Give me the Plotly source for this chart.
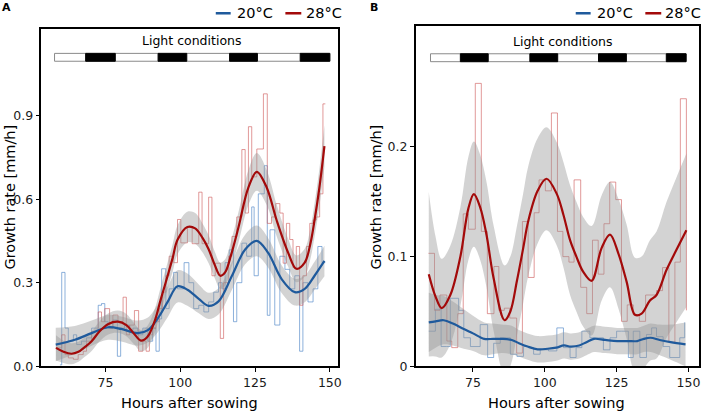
import plotly.graph_objects as go

W, H = 708, 419

# ---------------- Panel A data ----------------
red_A_x = [58.4, 60.4, 61.5, 62.6, 64.3, 65.9, 67.6, 68.7, 70.4, 72.6, 73.7, 74.8, 76.4, 77.5, 79.2, 80.9, 82.0, 83.1, 84.7, 86.1,
           87.5, 88.6, 89.7, 90.8, 91.9, 93.0, 94.1, 95.2, 96.3, 97.8, 99.1, 100.2, 102.4, 104.0, 106.2, 107.3, 109.5, 110.6, 111.7, 113.4,
           114.5, 116.2, 117.3, 118.9, 120.6, 121.7, 122.8, 123.9, 125.6, 127.8, 129.1, 130.5, 131.9, 133.3, 134.4, 135.5, 136.6, 137.7,
           138.8, 139.9, 141.0, 142.2, 143.3, 144.4, 145.5, 146.6, 147.7, 148.5]
red_A_y = [0.066, 0.113, 0.042, 0.030, 0.025, 0.042, 0.054, 0.090, 0.125, 0.195, 0.160, 0.207, 0.137, 0.184, 0.160, 0.248, 0.113, 0.148, 0.200, 0.054,
           0.090, 0.054, 0.113, 0.137, 0.160, 0.207, 0.266, 0.325, 0.395, 0.372, 0.527, 0.443, 0.500, 0.440, 0.625, 0.440, 0.607, 0.325, 0.370, 0.100,
           0.300, 0.395, 0.466, 0.536, 0.778, 0.550, 0.860, 0.680, 0.780, 0.978, 0.513, 0.536, 0.584, 0.550, 0.370, 0.513, 0.455, 0.354,
           0.430, 0.219, 0.325, 0.430, 0.513, 0.525, 0.536, 0.619, 0.942, 0.942]

blue_A_x = [59.8, 60.4, 61.5, 62.6, 64.3, 65.4, 67.0, 68.7, 70.4, 72.6, 73.7, 74.8, 75.9, 77.5, 79.0, 80.1, 81.4, 83.1, 84.2, 85.8,
            87.5, 89.2, 90.8, 91.9, 93.0, 93.8, 95.2, 96.3, 97.8, 99.1, 101.3, 102.9, 104.5, 106.2, 107.9, 109.5, 111.2, 112.8, 114.0, 115.0,
            116.4, 117.8, 118.9, 120.6, 122.2, 123.9, 124.7, 126.1, 128.1, 129.1, 130.0, 131.6, 133.3, 135.0, 136.6, 138.3, 139.9, 141.0,
            142.7, 144.4, 146.0, 147.4, 148.5]
blue_A_y = [0.005, 0.337, 0.137, 0.090, 0.113, 0.078, 0.090, 0.102, 0.137, 0.219, 0.225, 0.160, 0.137, 0.166, 0.036, 0.137, 0.148, 0.125, 0.137, 0.113,
            0.137, 0.090, 0.137, 0.054, 0.170, 0.350, 0.207, 0.278, 0.337, 0.278, 0.372, 0.300, 0.207, 0.219, 0.195, 0.231, 0.266, 0.300, 0.278, 0.372,
            0.418, 0.160, 0.300, 0.442, 0.395, 0.572, 0.325, 0.619, 0.720, 0.183, 0.490, 0.148, 0.395, 0.348, 0.278, 0.325, 0.054, 0.300,
            0.231, 0.278, 0.430, 0.372, 0.372]

red_A_fit_x = [58.5, 61, 63.7, 66, 68, 70.4, 73, 76, 79.2, 82, 84.5, 86.9, 89, 91.4, 93.5, 95.8, 97.5, 99.1, 102.4, 105,
               107.5, 109.5, 111.5, 113.4, 115, 117, 119.5, 122.8, 125.6, 128.9, 132.2, 136.1, 138.8, 141.6, 143.5, 144.9, 146.5, 148.2]
red_A_fit = [0.066, 0.052, 0.045, 0.052, 0.068, 0.090, 0.125, 0.152, 0.160, 0.148, 0.118, 0.092, 0.105, 0.160, 0.240, 0.325, 0.390, 0.454, 0.500, 0.495,
             0.460, 0.420, 0.365, 0.325, 0.337, 0.400, 0.500, 0.642, 0.698, 0.642, 0.525, 0.407, 0.350, 0.372, 0.440, 0.525, 0.640, 0.790]
red_A_ci = [0.045, 0.040, 0.038, 0.036, 0.035, 0.035, 0.036, 0.038, 0.040, 0.040, 0.038, 0.038, 0.040, 0.043, 0.045, 0.048, 0.050, 0.052, 0.055, 0.055,
            0.052, 0.050, 0.048, 0.047, 0.047, 0.050, 0.055, 0.063, 0.068, 0.063, 0.057, 0.050, 0.048, 0.050, 0.055, 0.060, 0.068, 0.075]

blue_A_fit_x = [58.4, 64.8, 70.4, 75.9, 80.3, 85.8, 89.2, 92.5, 95.8, 99.1, 102.4, 106.2, 109.5, 112.8, 117.3, 121.7, 125.6, 129.4,
                133.9, 138.3, 141.6, 144.9, 148.2]
blue_A_fit = [0.078, 0.095, 0.119, 0.140, 0.134, 0.119, 0.130, 0.172, 0.231, 0.287, 0.275, 0.242, 0.217, 0.233, 0.325, 0.419, 0.450, 0.407,
              0.313, 0.266, 0.278, 0.325, 0.378]
blue_A_ci = [0.060, 0.050, 0.045, 0.045, 0.045, 0.045, 0.045, 0.050, 0.055, 0.058, 0.058, 0.052, 0.047, 0.047, 0.050, 0.053, 0.055, 0.053,
             0.050, 0.048, 0.048, 0.050, 0.055]

# ---------------- Panel B data ----------------
red_B_x = [59.5, 61.6, 63.5, 65.9, 67.6, 69.7, 71.6, 73.4, 75.8, 77.9, 80.0, 82.3, 84.0, 85.9, 87.8, 90.2, 92.2, 94.2, 96.3, 98.0,
           100.2, 102.3, 104.4, 106.3, 108.4, 110.2, 112.5, 114.6, 116.6, 118.6, 120.6, 122.6, 124.7, 126.7, 128.7, 130.8, 132.9, 135.1,
           137.2, 138.9, 141.0, 143.2, 145.3, 147.2, 149.3]
red_B_y = [0.103, 0.051, 0.065, 0.023, 0.017, 0.048, 0.139, 0.125, 0.258, 0.123, 0.048, 0.091, 0.051, 0.053, 0.044, 0.012, 0.132, 0.081, 0.140, 0.170,
           0.160, 0.231, 0.123, 0.100, 0.095, 0.170, 0.072, 0.048, 0.115, 0.084, 0.130, 0.168, 0.152, 0.041, 0.056, 0.047, 0.041, 0.065,
           0.065, 0.069, 0.090, 0.022, 0.095, 0.244, 0.051]

blue_B_x = [59.6, 61.9, 63.9, 65.7, 67.1, 70.0, 71.8, 74.1, 77.5, 80.1, 82.2, 84.5, 88.0, 90.3, 92.6, 94.3, 96.1, 98.4, 101.3, 104.2,
            106.5, 108.8, 110.9, 112.9, 115.7, 118.6, 120.4, 122.7, 125.0, 126.7, 129.1, 130.8, 133.1, 135.4, 137.2, 138.9, 141.2, 143.5,
            147.0, 148.7]
blue_B_y = [0.032, 0.052, 0.018, 0.018, 0.062, 0.051, 0.026, 0.018, 0.038, 0.008, 0.021, 0.026, 0.011, 0.009, 0.018, 0.017, 0.011, 0.015, 0.014, 0.035,
            0.017, 0.008, 0.017, 0.032, 0.026, 0.026, 0.015, 0.026, 0.032, 0.032, 0.008, 0.032, 0.008, 0.029, 0.035, 0.027, 0.018, 0.008,
            0.026, 0.040]

red_B_fit_x = [59.6, 61.9, 64.1, 67.1, 70.6, 73.4, 75.3, 77.5, 79.7, 82.2, 86.0, 88.0, 90.3, 92.5, 94.2, 97.5, 100.6, 104.2, 106.5,
               108.8, 111.0, 113.4, 116.3, 119.8, 122.7, 125.6, 128.5, 131.4, 133.7, 136.6, 138.9, 142.4, 145.8, 149.3]
red_B_fit = [0.084, 0.064, 0.053, 0.065, 0.100, 0.144, 0.157, 0.145, 0.120, 0.080, 0.042, 0.050, 0.078, 0.108, 0.132, 0.160, 0.171, 0.157, 0.138,
             0.115, 0.100, 0.086, 0.078, 0.108, 0.120, 0.103, 0.077, 0.047, 0.048, 0.060, 0.065, 0.088, 0.106, 0.124]
red_B_ci = [0.075, 0.055, 0.045, 0.045, 0.045, 0.047, 0.048, 0.048, 0.048, 0.048, 0.050, 0.050, 0.050, 0.050, 0.050, 0.048, 0.047, 0.047, 0.048,
            0.050, 0.050, 0.050, 0.050, 0.048, 0.048, 0.050, 0.052, 0.052, 0.052, 0.055, 0.058, 0.062, 0.066, 0.070]

blue_B_fit_x = [59.6, 62, 64.8, 68, 71.8, 75, 78.9, 82, 85, 88.5, 91, 94, 97.5, 101, 104, 106.7, 109, 112, 114.5, 117.1, 121, 125.2,
                129, 132.2, 134.5, 136.8, 140, 143.8, 149]
blue_B_fit = [0.040, 0.041, 0.042, 0.039, 0.034, 0.030, 0.025, 0.025, 0.025, 0.024, 0.021, 0.018, 0.0155, 0.016, 0.017, 0.019, 0.018, 0.019,
              0.022, 0.025, 0.024, 0.023, 0.023, 0.023, 0.025, 0.026, 0.024, 0.022, 0.020]
blue_B_ci = [0.027, 0.024, 0.022, 0.020, 0.018, 0.016, 0.015, 0.014, 0.013, 0.013, 0.012, 0.012, 0.012, 0.012, 0.012, 0.012, 0.012, 0.012,
             0.012, 0.012, 0.012, 0.012, 0.012, 0.012, 0.012, 0.013, 0.014, 0.016, 0.020]

# light conditions (hours): bar extent and dark periods
light_A = (58.0, 150.0)
dark_A = [(68.4, 78.3), (92.6, 102.2), (116.5, 125.8), (140.1, 150.0)]
light_B = (60.2, 149.2)
dark_B = [(70.6, 80.3), (94.8, 104.5), (118.7, 128.4), (142.3, 149.2)]

x_ticks = [75, 100, 125, 150]
yA_ticks = [0.0, 0.3, 0.6, 0.9]
yA_labels = ["0.0", "0.3", "0.6", "0.9"]
yB_ticks = [0.0, 0.1, 0.2]
yB_labels = ["0", "0.1", "0.2"]
series_names = ["20°C", "28°C"]

# ---------------- styles ----------------
BLUE = "#1f5a9c"
RED = "#a30a0a"
BLUE_RAW = "rgba(80,135,200,0.65)"
RED_RAW = "rgba(205,85,85,0.6)"
BAND = "rgba(150,150,150,0.42)"
FONT = "DejaVu Sans"

fig = go.Figure()


def add_panel(xa, ya, rx, ry, bx, by, rfx, rf, rci, bfx, bf, bci):
    fig.add_trace(go.Scatter(x=bx, y=by, mode="lines", line=dict(color=BLUE_RAW, width=1, shape="hv"),
                             xaxis=xa, yaxis=ya, showlegend=False, hoverinfo="skip"))
    fig.add_trace(go.Scatter(x=rx, y=ry, mode="lines", line=dict(color=RED_RAW, width=1, shape="hv"),
                             xaxis=xa, yaxis=ya, showlegend=False, hoverinfo="skip"))
    for fx, f, ci in ((bfx, bf, bci), (rfx, rf, rci)):
        lo = [v - c for v, c in zip(f, ci)]
        hi = [v + c for v, c in zip(f, ci)]
        fig.add_trace(go.Scatter(x=fx, y=lo, mode="lines", line=dict(width=0, shape="spline"),
                                 xaxis=xa, yaxis=ya, showlegend=False, hoverinfo="skip"))
        fig.add_trace(go.Scatter(x=fx, y=hi, mode="lines", line=dict(width=0, shape="spline"),
                                 fill="tonexty", fillcolor=BAND,
                                 xaxis=xa, yaxis=ya, showlegend=False, hoverinfo="skip"))
    fig.add_trace(go.Scatter(x=bfx, y=bf, mode="lines", line=dict(color=BLUE, width=2.2, shape="spline"),
                             xaxis=xa, yaxis=ya, showlegend=False, hoverinfo="skip"))
    fig.add_trace(go.Scatter(x=rfx, y=rf, mode="lines", line=dict(color=RED, width=2.2, shape="spline"),
                             xaxis=xa, yaxis=ya, showlegend=False, hoverinfo="skip"))


add_panel("x", "y", red_A_x, red_A_y, blue_A_x, blue_A_y, red_A_fit_x, red_A_fit, red_A_ci,
          blue_A_fit_x, blue_A_fit, blue_A_ci)
add_panel("x2", "y2", red_B_x, red_B_y, blue_B_x, blue_B_y, red_B_fit_x, red_B_fit, red_B_ci,
          blue_B_fit_x, blue_B_fit, blue_B_ci)

shapes = []
annotations = []


def light_bar(xref, yref, extent, darks, y0, y1):
    shapes.append(dict(type="rect", xref=xref, yref=yref, x0=extent[0], x1=extent[1], y0=y0, y1=y1,
                       fillcolor="white", line=dict(color="#8a8a8a", width=1)))
    for a, b in darks:
        shapes.append(dict(type="rect", xref=xref, yref=yref, x0=a, x1=b, y0=y0, y1=y1,
                           fillcolor="black", line=dict(color="black", width=1)))


light_bar("x", "y", light_A, dark_A, 1.0950, 1.1232)
light_bar("x2", "y2", light_B, dark_B, 0.2778, 0.2850)


def P(x, y):
    return x / W, 1 - y / H


# legends (manual, ggplot-style short keys)
for (x0, x1, tx, col, name) in [(217, 232, 236, BLUE, series_names[0]), (287, 303, 306, RED, series_names[1]),
                                (579, 594, 598, BLUE, series_names[0]), (649, 665, 667, RED, series_names[1])]:
    a, yy = P(x0, 13.5)
    b, _ = P(x1, 13.5)
    shapes.append(dict(type="line", xref="paper", yref="paper", x0=a, x1=b, y0=yy, y1=yy,
                       line=dict(color=col, width=2.5)))
    tx_, ty_ = P(tx, 13.5)
    annotations.append(dict(x=tx_, y=ty_, xref="paper", yref="paper", text=name, showarrow=False,
                            xanchor="left", yanchor="middle", font=dict(family=FONT, size=14.5, color="black")))

# panel letters
for (x, y, t) in [(7, 8, "A"), (376, 8, "B")]:
    px_, py_ = P(x, y)
    annotations.append(dict(x=px_, y=py_, xref="paper", yref="paper", text="<b>%s</b>" % t, showarrow=False,
                            xanchor="center", yanchor="middle", font=dict(family=FONT, size=11, color="black")))

# light conditions labels
for (x, y) in [(193, 40.7), (565.7, 41.7)]:
    px_, py_ = P(x, y)
    annotations.append(dict(x=px_, y=py_, xref="paper", yref="paper", text="Light conditions", showarrow=False,
                            xanchor="center", yanchor="middle", font=dict(family=FONT, size=12.5, color="black")))

# axis titles
for (x, y) in [(191, 410), (560, 410)]:
    px_, py_ = P(x, y)
    annotations.append(dict(x=px_, y=py_, xref="paper", yref="paper", text="Hours after sowing", showarrow=False,
                            xanchor="center", yanchor="middle", font=dict(family=FONT, size=14.5, color="black")))
for (x, y) in [(10, 200), (378, 200)]:
    px_, py_ = P(x, y)
    annotations.append(dict(x=px_, y=py_, xref="paper", yref="paper", text="Growth rate [mm/h]", showarrow=False,
                            textangle=-90, xanchor="center", yanchor="middle",
                            font=dict(family=FONT, size=14.5, color="black")))

axis_common = dict(showline=True, mirror=True, linecolor="black", linewidth=1.5, ticks="outside", ticklen=4,
                   tickwidth=1.2, tickcolor="black", showgrid=False, zeroline=False,
                   tickfont=dict(family=FONT, size=12.5, color="#1a1a1a"))

fig.update_layout(
    width=W, height=H, autosize=False,
    margin=dict(l=0, r=0, t=0, b=0),
    paper_bgcolor="white", plot_bgcolor="white",
    showlegend=False,
    xaxis=dict(domain=[41.7 / W, 340 / W], range=[53.63, 152.76], anchor="y", tickvals=x_ticks, **axis_common),
    yaxis=dict(domain=[1 - 372.5 / H, 1 - 29.3 / H], range=[0, 1.2114], anchor="x", tickvals=yA_ticks,
               ticktext=yA_labels, **axis_common),
    xaxis2=dict(domain=[418 / W, 703 / W], range=[55.03, 153.7], anchor="y2", tickvals=x_ticks, **axis_common),
    yaxis2=dict(domain=[1 - 372.5 / H, 1 - 26.7 / H], range=[0, 0.3101], anchor="x2", tickvals=yB_ticks,
                ticktext=yB_labels, **axis_common),
    shapes=shapes,
    annotations=annotations,
)

page_script = (
    "document.documentElement.style.margin='0px';"
    "document.body.style.margin='0px';"
    "document.body.style.overflow='hidden';"
)

fig.write_html("out.html", config={"displayModeBar": False}, post_script=page_script)
